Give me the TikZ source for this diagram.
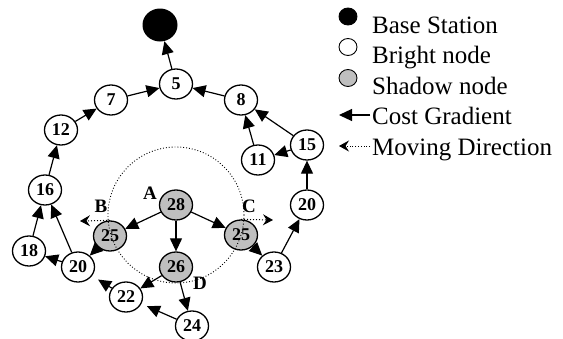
\documentclass[tikz,border=0pt]{standalone}
\usepackage{fontspec}
\setmainfont{Liberation Serif}
\usetikzlibrary{shapes.geometric,arrows.meta}
\begin{document}
\begin{tikzpicture}[x=1pt,y=-1pt,
  nd/.style={ellipse,draw,line width=1.3pt,minimum width=33pt,minimum height=30pt,inner sep=0pt,fill=white,font=\fontsize{18}{18}\selectfont\bfseries},
  sh/.style={nd,fill=black!25},
  bs/.style={ellipse,fill=black,minimum width=35pt,minimum height=33pt,inner sep=0pt},
  cg/.style={line width=1.2pt,-{Triangle[length=13pt,width=12pt]}},
  md/.style={dotted,line width=1pt,-{Stealth[length=10pt,width=11pt,inset=3.5pt]}},
  lab/.style={font=\fontsize{19}{19}\selectfont\bfseries,inner sep=0pt},
  leg/.style={anchor=base west,inner sep=0pt,font=\fontsize{25}{25}\selectfont},
  legsym/.style={ellipse,draw,line width=0.9pt,minimum width=18pt,minimum height=17pt,inner sep=0pt}
]
\useasboundingbox (0,0) rectangle (563,338);

% nodes
\node[bs] (bs) at (160,25) {};
\node[nd] (n5) at (176,84) {5};
\node[nd] (n7) at (111,100) {7};
\node[nd] (n12) at (61,130) {12};
\node[nd] (n8) at (241,100) {8};
\node[nd] (n11) at (258,160) {11};
\node[nd] (n15) at (307,145) {15};
\node[nd] (n20r) at (307,205) {20};
\node[nd] (n23) at (274,267) {23};
\node[nd] (n16) at (45,190) {16};
\node[nd] (n18) at (29,251) {18};
\node[nd] (n20l) at (78,267) {20};
\node[nd] (n22) at (126,297) {22};
\node[nd] (n24) at (192,326) {24};
\node[sh] (n28) at (176,205) {28};
\node[sh] (n25b) at (110,236) {25};
\node[sh] (n25c) at (241,235) {25};
\node[sh] (n26) at (176,267) {26};

% range circle
\draw[dotted,line width=0.9pt] (176,215) circle (68);

% labels
\node[lab] (la) at (150,193) {A};
\node[lab] (lb) at (101,206) {B};
\node[lab] (lc) at (249,206) {C};
\node[lab] (ld) at (200,283) {D};

% cost gradient arrows
\draw[cg] (n5) -- (bs);
\draw[cg] (n7) -- (n5);
\draw[cg] (n8) -- (n5);
\draw[cg] (n12) -- (n7);
\draw[cg] (n16) -- (n12);
\draw[cg] (n11) -- (n8);
\draw[cg] (n15) -- (n8);
\draw[cg] (n15) -- (n11);
\draw[cg] (n20r) -- (n15);
\draw[cg] (n23) -- (n20r);
\draw[cg] (n25c) -- (n23);
\draw[cg] (n28) -- (n25c);
\draw[cg] (n28) -- (n25b);
\draw[cg] (n28) -- (n26);
\draw[cg] (n26) -- (n22);
\draw[cg] (n26) -- (n24);
\draw[cg] (n25b) -- (n20l);
\draw[cg] (n20l) -- (n16);
\draw[cg] (n18) -- (n16);
\draw[cg] (n20l) -- (n18);
\draw[cg,shorten >=7pt] (n22) -- (n20l);
\draw[cg,shorten >=6pt] (n24) -- (n22);

% moving direction arrows
\coordinate (mb) at (80,221);
\coordinate (mc) at (273,220);
\draw[md] (n25b.north) -- (mb);
\draw[md] (n25c.north) -- (mc);

% legend
\node[legsym,fill=black] (l1) at (348,16.5) {};
\node[legsym,fill=white] (l2) at (348,47) {};
\node[legsym,fill=black!25] (l3) at (348,78) {};
\coordinate (l4a) at (370,115);
\coordinate (l4b) at (339,115);
\coordinate (l5a) at (370,146);
\coordinate (l5b) at (339,146);
\draw[cg] (l4a) -- (l4b);
\draw[md,line width=0.8pt] (l5a) -- (l5b);
\node[leg] (t1) at (372,33) {Base Station};
\node[leg] (t2) at (372,63) {Bright node};
\node[leg] (t3) at (372,94) {Shadow node};
\node[leg] (t4) at (372,124) {Cost Gradient};
\node[leg] (t5) at (372,155) {Moving Direction};
\end{tikzpicture}
\end{document}
